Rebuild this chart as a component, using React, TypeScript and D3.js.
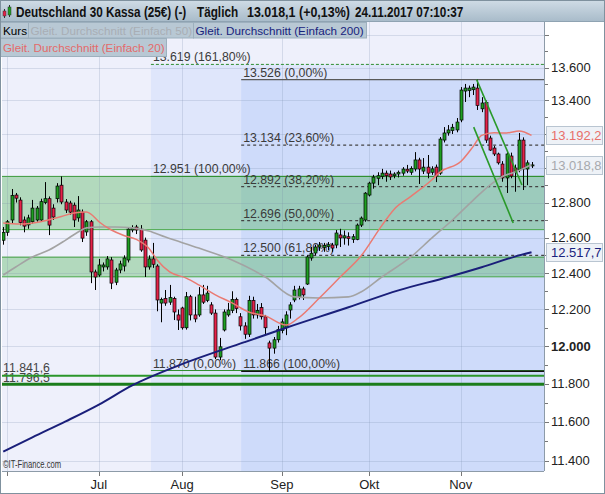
import React from 'react';
import * as d3 from 'd3';

// ---- Candles (index 0 = 31.05.2017 ... 127 = 24.11.2017) ----
const OPEN = [12585,12630,12700,12843,12814,12700,12672,12690,12700,12700,12800,12822,12768,12822,12900,12803,12797,12785,12712,12745,12632,12690,12407,12390,12435,12435,12474,12350,12418,12440,12474,12643,12660,12648,12586,12435,12480,12440,12235,12260,12240,12260,12170,12208,12100,12270,12170,12170,12280,12250,12225,12180,11942,12088,12170,12195,12255,12160,12110,12065,12250,12170,12210,12160,12018,11990,12035,12085,12100,12197,12252,12270,12313,12340,12485,12513,12547,12545,12550,12558,12558,12615,12598,12605,12590,12590,12671,12700,12843,12912,12940,12950,12970,12965,12955,12965,12970,12993,12975,12994,13047,12982,13005,12975,13005,12970,13164,13206,13220,13224,13283,13457,13460,13465,13475,13350,13388,13176,13117,13082,13023,12942,13070,13000,12988,13164,12994,13012];
const HIGH = [12660,12700,12878,12855,12830,12720,12730,12815,12780,12822,12918,12835,12790,12912,12951,12820,12810,12800,12837,12760,12700,12700,12420,12480,12460,12496,12490,12430,12470,12500,12660,12670,12672,12671,12600,12500,12570,12450,12265,12307,12335,12270,12200,12215,12296,12280,12270,12323,12335,12330,12240,12200,12045,12200,12236,12300,12265,12180,12130,12275,12270,12230,12235,12170,12030,12050,12110,12150,12190,12240,12330,12330,12325,12500,12547,12560,12575,12570,12575,12570,12643,12650,12640,12630,12620,12680,12720,12860,12920,12960,12975,12995,12985,12985,12975,12985,13005,13018,13010,13093,13060,13058,13076,13010,13020,13182,13241,13253,13260,13295,13481,13500,13490,13500,13526,13420,13400,13190,13130,13090,13040,13095,13090,13020,13206,13180,13045,13035];
const LOW = [12560,12610,12680,12800,12670,12630,12650,12680,12690,12690,12790,12614,12700,12800,12790,12740,12730,12660,12690,12575,12610,12345,12307,12380,12410,12420,12312,12334,12400,12410,12460,12630,12620,12520,12379,12420,12430,12190,12130,12220,12225,12142,12088,12090,12090,12140,12130,12160,12230,12240,12170,11931,11925,12080,12160,12180,12180,12085,12040,12050,12150,12150,12145,12060,11866,11960,12020,12070,12060,12150,12240,12255,12252,12335,12470,12500,12525,12520,12530,12520,12540,12547,12560,12555,12570,12585,12660,12690,12835,12880,12900,12935,12920,12930,12940,12945,12955,12970,12960,12980,12907,12965,12940,12960,12918,12960,13150,13190,13200,13210,13270,13391,13420,13433,13343,13330,13147,13100,13070,13020,12920,12855,12940,12862,12975,12872,12900,13000];
const CLOSE = [12630,12690,12840,12825,12685,12665,12712,12768,12768,12805,12822,12671,12717,12895,12803,12757,12745,12700,12757,12597,12690,12407,12379,12446,12446,12480,12345,12418,12452,12485,12648,12654,12643,12530,12435,12480,12450,12252,12255,12235,12265,12186,12142,12100,12270,12170,12148,12280,12240,12290,12180,11942,11997,12186,12197,12255,12205,12110,12065,12250,12170,12195,12160,12100,11990,12035,12090,12132,12170,12225,12307,12313,12280,12491,12512,12547,12558,12555,12560,12541,12626,12598,12610,12595,12605,12671,12711,12854,12912,12947,12955,12970,12955,12948,12965,12975,12994,12982,12998,13047,12994,13005,12970,12995,12953,13170,13206,13224,13240,13271,13463,13475,13475,13481,13370,13385,13164,13105,13082,13030,12942,13082,12953,12975,13164,12994,13030,13018];

// ---- Moving averages: [candle index, value] ----
const SMA20: [number, number][] = [[0,12683],[4,12677],[9,12690],[14,12720],[17,12740],[20,12745],[21,12735],[23,12690],[26,12643],[29,12612],[32,12590],[35,12540],[37,12474],[40,12407],[44,12373],[47,12335],[51,12280],[55,12236],[59,12186],[63,12165],[68,12115],[71,12154],[76,12263],[81,12379],[86,12496],[91,12668],[94,12762],[98,12835],[103,12930],[105,12976],[110,13038],[113,13127],[115,13192],[118,13207],[121,13206],[124,13218],[127,13192.2]];
const SMA50: [number, number][] = [[0,12390],[3,12435],[7,12491],[11,12530],[15,12586],[18,12632],[20,12655],[23,12660],[27,12660],[31,12655],[35,12637],[39,12603],[47,12541],[55,12474],[63,12379],[70,12269],[76,12263],[83,12269],[86,12296],[91,12379],[98,12491],[103,12597],[108,12700],[113,12814],[117,12901],[120,12950],[124,12985],[127,13018.8]];
const SMA200: [number, number][] = [[0,11445],[7,11519],[15,11602],[23,11690],[31,11791],[41,11887],[58,12022],[68,12100],[83,12212],[95,12305],[107,12379],[115,12433],[123,12493],[127,12517.7]];

// ---- Axes ----
const MONTH_INDEX = [1, 23, 43, 67, 88, 110];
const MONTH_LABELS = ['', 'Jul', 'Aug', 'Sep', 'Okt', 'Nov'];
const Y_MAJOR = [11400, 11600, 11800, 12000, 12200, 12400, 12600, 12800, 13000, 13200, 13400, 13600, 13800];
const Y_MINOR = [11500, 11700, 11900, 12100, 12300, 12500, 12700, 12900, 13100, 13300, 13500, 13700];

// ---- Drawing tools ----
const FIB1_START = 35.5;
const FIB1_LEVELS = [13619, 12951, 11870];
const FIB1_PCTS = ['161,80%', '100,00%', '0,00%'];
const FIB2_START = 57.2;
const FIB2_LEVELS = [13526, 13134, 12892, 12696, 12500, 11866];
const FIB2_PCTS = ['0,00%', '23,60%', '38,20%', '50,00%', '61,80%', '100,00%'];
const BANDS: [number, number][] = [[12951, 12645], [12490, 12380]];
const HLINES = [11841.6, 11796.5];
const TREND1: [number, number][] = [[113.8, 13526], [124.7, 12901]];
const TREND2: [number, number][] = [[113.1, 13241], [122.6, 12683]];

const HEADER_TEXTS = ['Deutschland 30 Kassa (25€) (-)', 'Täglich', '13.018,1 (+0,13%)', '24.11.2017 07:10:37'];
const HEADER_X = [16, 197, 247, 355];
const HEADER_SCALE = [0.81, 0.81, 0.86, 0.81];

const de = d3.formatLocale({ decimal: ',', thousands: '.', grouping: [3], currency: ['', '€'] });
const fInt = de.format(',.0f');
const f1 = de.format(',.1f');

const FONT = "'Liberation Sans', Arial, Helvetica, sans-serif";

export default function App() {
  const W = 605, H = 494;
  const L = 2, R = 544, T = 22, B = 471;
  const x = d3.scaleLinear().domain([-0.3, 130]).range([L, R]);
  const y = d3.scaleLog().domain([11400, 13600]).range([460.5, 67.5]);
  const ln = d3.line<[number, number]>().x(d => x(d[0])).y(d => y(d[1])).curve(d3.curveMonotoneX);
  const straight = d3.line<[number, number]>().x(d => x(d[0])).y(d => y(d[1]));
  const xf1 = x(FIB1_START), xf2 = x(FIB2_START);
  const GREEN = '#1f9f22', RED = '#e6224a';

  const lastBoxes = [
    { v: SMA20[SMA20.length - 1][1], color: '#e8706a' },
    { v: SMA50[SMA50.length - 1][1], color: '#a7a9ad' },
    { v: SMA200[SMA200.length - 1][1], color: '#1a237e' },
  ];
  const hiddenByBox = (v: number) => lastBoxes.some(b => Math.abs(y(b.v) - y(v)) < 12);

  return (
    <svg width={W} height={H} style={{ position: 'absolute', left: 0, top: 0, display: 'block' }} fontFamily={FONT}>
      <defs>
        <clipPath id="plot"><rect x={L} y={T} width={R - L} height={B - T} /></clipPath>
        <linearGradient id="hdr" x1="0" y1="0" x2="0" y2="1">
          <stop offset="0" stopColor="#d0dce6" />
          <stop offset="1" stopColor="#a9bcca" />
        </linearGradient>
      </defs>
      <rect x={0} y={0} width={W} height={H} fill="#ffffff" />
      <g clipPath="url(#plot)">
        <rect x={L} y={T} width={R - L} height={B - T} fill="#eef0fb" />
        <rect x={xf1} y={y(FIB1_LEVELS[0])} width={R - xf1} height={B - y(FIB1_LEVELS[0])} fill="#dfe6fb" />
        <rect x={xf2} y={y(FIB2_LEVELS[0])} width={R - xf2} height={B - y(FIB2_LEVELS[0])} fill="#cedbfa" />
        {BANDS.map((b, i) => (
          <g key={'b' + i}>
            <rect x={L} y={y(b[0])} width={R - L} height={y(b[1]) - y(b[0])} fill="rgba(40,165,45,0.3)" />
            <line x1={L} x2={R} y1={y(b[0])} y2={y(b[0])} stroke="#3a9a3a" strokeWidth={1} />
            <line x1={L} x2={R} y1={y(b[1])} y2={y(b[1])} stroke="#4aa84a" strokeWidth={1} />
          </g>
        ))}
        {Y_MAJOR.map(v => (
          <line key={'gy' + v} x1={L} x2={R} y1={Math.round(y(v)) + 0.5} y2={Math.round(y(v)) + 0.5} stroke="rgba(120,135,170,0.22)" strokeWidth={1} />
        ))}
        {MONTH_INDEX.map(k => (
          <line key={'gx' + k} x1={Math.round(x(k)) + 0.5} x2={Math.round(x(k)) + 0.5} y1={T} y2={B} stroke="rgba(120,135,170,0.22)" strokeWidth={1} />
        ))}
        {FIB1_LEVELS.map((v, i) => (
          <g key={'f1' + i}>
            <text x={xf1 + 2} y={y(v) - 3} fontSize={12.3} fill="#3a3a3a">{fInt(v) + ' (' + FIB1_PCTS[i] + ')'}</text>
            <line x1={xf1} x2={R} y1={y(v)} y2={y(v)} stroke="#2f8f2f" strokeWidth={1}
              strokeDasharray={i === 0 ? '3,2' : undefined} />
          </g>
        ))}
        {FIB2_LEVELS.map((v, i) => {
          const solid = i === 0 || i === FIB2_LEVELS.length - 1;
          return (
            <g key={'f2' + i}>
              <text x={xf2 + 2} y={y(v) - 3} fontSize={12.3} fill="#3a3a3a">{fInt(v) + ' (' + FIB2_PCTS[i] + ')'}</text>
              <line x1={xf2} x2={R} y1={y(v)} y2={y(v)}
                stroke={i === 0 ? '#5a5a5a' : solid ? '#111' : '#444'}
                strokeWidth={solid ? 1.4 : 1.2}
                strokeDasharray={solid ? undefined : '3,3'} />
            </g>
          );
        })}
        {HLINES.map((v, i) => (
          <text key={'ht' + i} x={3} y={y(v) - (i === 0 ? 4 : 2.5)} fontSize={12.3} fill="#444">{f1(v)}</text>
        ))}
        {HLINES.map((v, i) => (
          <line key={'hl' + i} x1={L} x2={R} y1={y(v)} y2={y(v)} stroke={i === 0 ? '#2a962a' : '#1b7d1b'} strokeWidth={i === 0 ? 2 : 3} />
        ))}
        {OPEN.map((o, i) => {
          const c = CLOSE[i];
          const cx = Math.round(x(i)) + 0.5;
          const yt = y(Math.max(o, c)), yb = y(Math.min(o, c));
          return (
            <g key={'c' + i}>
              <line x1={cx} x2={cx} y1={y(HIGH[i])} y2={y(LOW[i])} stroke="#000" strokeWidth={1} />
              <rect x={cx - 1.5} y={yt} width={3} height={Math.max(1, yb - yt)} fill={c >= o ? GREEN : RED} stroke="#000" strokeWidth={0.7} />
            </g>
          );
        })}
        <path d={ln(SMA50) || ''} fill="none" stroke="#a3a3a3" strokeWidth={1.6} />
        <path d={ln(SMA20) || ''} fill="none" stroke="#ea7a72" strokeWidth={1.5} />
        <path d={ln(SMA200) || ''} fill="none" stroke="#1a1f7a" strokeWidth={2} />
        <path d={straight(TREND1) || ''} fill="none" stroke="#2a9a2a" strokeWidth={1.6} />
        <path d={straight(TREND2) || ''} fill="none" stroke="#2a9a2a" strokeWidth={1.6} />
        <text transform="translate(3,468) scale(0.74,1)" fontSize={10.3} fill="#333">©IT-Finance.com</text>
      </g>
      <line x1={R + 0.5} x2={R + 0.5} y1={T} y2={B} stroke="#8d9ba8" />
      <line x1={L} x2={R} y1={B + 0.5} y2={B + 0.5} stroke="#8d9ba8" />
      {Y_MINOR.map(v => (
        <line key={'mn' + v} x1={R + 1} x2={R + 4} y1={Math.round(y(v)) + 0.5} y2={Math.round(y(v)) + 0.5} stroke="#777" />
      ))}
      {Y_MAJOR.map(v => (
        <line key={'mj' + v} x1={R + 1} x2={R + 5} y1={Math.round(y(v)) + 0.5} y2={Math.round(y(v)) + 0.5} stroke="#777" />
      ))}
      {Y_MAJOR.filter(v => y(v) > 50 && !hiddenByBox(v)).map(v => (
        <text key={'yl' + v} x={551} y={y(v) + 4.5} fontSize={13} fill="#222" fontWeight={v % 1000 === 0 ? 'bold' : 'normal'}>{fInt(v)}</text>
      ))}
      {lastBoxes.map((b, i) => (
        <g key={'lb' + i}>
          <rect x={546.5} y={Math.round(y(b.v)) - 8.5} width={56} height={18} fill="#eef2f7" stroke="#b9c5d1" />
          <text x={551} y={y(b.v) + 5} fontSize={13} fill={b.color}>{f1(b.v)}</text>
        </g>
      ))}
      {MONTH_INDEX.map((k, i) => (
        <g key={'mx' + k}>
          <line x1={Math.round(x(k)) + 0.5} x2={Math.round(x(k)) + 0.5} y1={B + 1} y2={B + 5} stroke="#777" />
          {MONTH_LABELS[i] && <text x={x(k)} y={489} fontSize={13} fill="#222" textAnchor="middle">{MONTH_LABELS[i]}</text>}
        </g>
      ))}
      <rect x={0} y={0} width={W} height={21} fill="url(#hdr)" />
      <line x1={0} x2={W} y1={21.5} y2={21.5} stroke="#8fa3b2" />
      <line x1={4.5} x2={4.5} y1={9} y2={18} stroke="#333" />
      <rect x={3} y={11} width={3} height={5} fill={RED} stroke="#333" strokeWidth={0.5} />
      <line x1={9.5} x2={9.5} y1={5} y2={17} stroke="#333" />
      <rect x={8} y={7} width={3} height={8} fill={GREEN} stroke="#333" strokeWidth={0.5} />
      <g fontWeight="bold" fontSize={14.5} fill="#111">
        {HEADER_TEXTS.map((t, i) => (
          <text key={'h' + i} transform={`translate(${HEADER_X[i]},17) scale(${HEADER_SCALE[i]},1)`}>{t}</text>
        ))}
      </g>
      <g fontSize={11.7}>
        <rect x={0.5} y={22.5} width={28} height={15.5} fill="#b8c8d4" stroke="#9db0be" />
        <text x={3} y={34.5} fill="#000">Kurs</text>
        <rect x={28.5} y={22.5} width={165} height={15.5} fill="#b8c8d4" stroke="#9db0be" />
        <text x={30.5} y={34.5} fill="#a9aeb4">Gleit. Durchschnitt (Einfach 50)</text>
        <rect x={193.5} y={22.5} width={173} height={15.5} fill="#b8c8d4" stroke="#9db0be" />
        <text x={195.5} y={34.5} fill="#17237d">Gleit. Durchschnitt (Einfach 200)</text>
        <rect x={0.5} y={38.5} width={166} height={18} fill="#b8c8d4" stroke="#9db0be" />
        <text x={3} y={52} fill="#e46a6a">Gleit. Durchschnitt (Einfach 20)</text>
      </g>
      <rect x={0.5} y={0.5} width={W - 1} height={H - 1} fill="none" stroke="#7f919e" />
    </svg>
  );
}
